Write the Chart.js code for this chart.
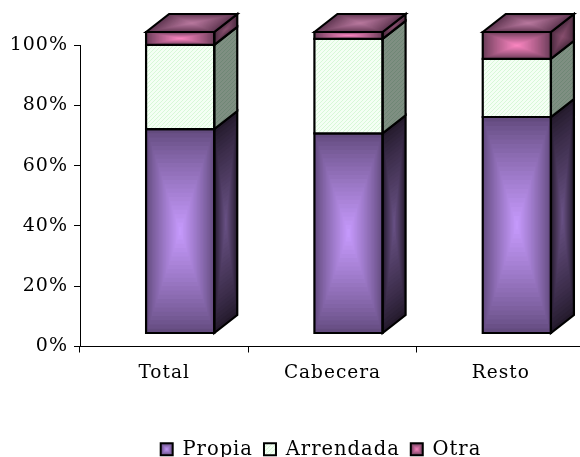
<!DOCTYPE html>
<html><head><meta charset="utf-8">
<style>html,body{margin:0;padding:0;background:#fff;overflow:hidden;width:580px;height:457px}canvas{display:block}</style>
<script src="https://cdn.jsdelivr.net/npm/chart.js@4/dist/chart.umd.min.js"></script>
</head><body><canvas id="c" width="585" height="457"></canvas>
<script>
const categories=['Total','Cabecera','Resto'];
const seriesNames=['Propia','Arrendada','Otra'];
const propia=[67.8,66.4,71.8];
const arrendada=[27.9,31.3,19.3];
const otra=[4.3,2.3,8.9];
const yTicks=[0,20,40,60,80,100];

const FRONT_DX=16, FRONT_DY=-13, DEPTH_X=23, DEPTH_Y=18, LEGEND_SHIFT=23;

function hex(c){return [1,3,5].map(i=>parseInt(c.substr(i,2),16));}
function mix(a,b,t){const A=hex(a),B=hex(b);return `rgb(${A.map((v,i)=>Math.round(v+(B[i]-v)*t)).join(',')})`;}
function hatch(ctx,bg,fg){
  const o=document.createElement('canvas');o.width=o.height=4;
  const x=o.getContext('2d');x.fillStyle=bg;x.fillRect(0,0,4,4);x.fillStyle=fg;
  for(let i=0;i<4;i++)x.fillRect(i,3-i,1,1);
  return ctx.createPattern(o,'repeat');
}
function poly(ctx,p){ctx.beginPath();p.forEach((q,i)=>i?ctx.lineTo(q[0],q[1]):ctx.moveTo(q[0],q[1]));ctx.closePath();}
function face(ctx,p,outer,inner,stops){
  const cx=p.reduce((s,q)=>s+q[0],0)/4, cy=p.reduce((s,q)=>s+q[1],0)/4;
  if(inner===null){ctx.fillStyle=outer;poly(ctx,p);ctx.fill();}
  else{
    const n=stops||24;
    for(let i=0;i<n;i++){
      const t=i/n;
      ctx.fillStyle=mix(outer,inner,Math.pow(t,0.85));
      poly(ctx,p.map(q=>[cx+(q[0]-cx)*(1-t),cy+(q[1]-cy)*(1-t)]));ctx.fill();
    }
  }
}
function outline(ctx,p,w){ctx.strokeStyle='#000';ctx.lineWidth=w||2.2;ctx.lineJoin='miter';poly(ctx,p);ctx.stroke();}

const cv=document.getElementById('c');
const ctx0=cv.getContext('2d');

const frontStyle=[
  {o:'#634b7e',i:'#c89cff'},
  {f:hatch(ctx0,'#f4fff4','#d8f8d8')},
  {o:'#6a3c58',i:'#ff88c4'}];
const sideStyle=[
  {o:'#241a2c',i:'#6a5286'},
  {f:hatch(ctx0,'#7f8f82','#6f8775')},
  {o:'#4a2a3e',i:'#8a5070'}];
const topStyle={o:'#5e3550',i:'#bb7aa0'};

const bars3d={
  id:'bars3d',
  beforeLayout(c){c.ctx.letterSpacing='1px';},
  afterLayout(c){
    const L=c.legend;L.left+=LEGEND_SHIFT;L.right+=LEGEND_SHIFT;
    L.legendHitBoxes.forEach(h=>{h.left+=LEGEND_SHIFT;});
  },
  beforeDraw(c){c.ctx.letterSpacing='1px';},
  beforeDatasetsDraw(c){c.ctx.save();c.ctx.translate(FRONT_DX,FRONT_DY);},
  afterDatasetsDraw(c){
    const ctx=c.ctx;
    c.data.datasets.forEach((d,ds)=>{
      c.getDatasetMeta(ds).data.forEach(b=>{
        const l=b.x-b.width/2,r=b.x+b.width/2,t=b.y,bt=b.base;
        const F=[[l,t],[r,t],[r,bt],[l,bt]];
        const S=[[r,t],[r+DEPTH_X,t-DEPTH_Y],[r+DEPTH_X,bt-DEPTH_Y],[r,bt]];
        const fs=frontStyle[ds],ss=sideStyle[ds];
        if(fs.f)face(ctx,F,fs.f,null);else face(ctx,F,fs.o,fs.i);
        if(ss.f)face(ctx,S,ss.f,null);else face(ctx,S,ss.o,ss.i);
        outline(ctx,F);outline(ctx,S);
        if(ds===c.data.datasets.length-1){
          const T=[[l,t],[l+DEPTH_X,t-DEPTH_Y],[r+DEPTH_X,t-DEPTH_Y],[r,t]];
          face(ctx,T,topStyle.o,topStyle.i);outline(ctx,T);
        }
      });
    });
    ctx.restore();
  },
  afterDraw(c){
    const ctx=c.ctx,L=c.legend;
    L.legendHitBoxes.forEach((h,i)=>{
      const x=h.left+1,y=h.top+(h.height-12)/2-1,s=12;
      const P=[[x,y],[x+s,y],[x+s,y+s],[x,y+s]];
      const fs=frontStyle[i];
      if(fs.f)face(ctx,P,fs.f,null);else face(ctx,P,fs.o,fs.i,6);
      outline(ctx,P,2);
    });
  }
};

function ds(label,data,color){
  return {label,data,backgroundColor:color,borderColor:'#000',borderWidth:2,borderSkipped:false,
    barPercentage:0.405,categoryPercentage:1,clip:false,stack:'s'};
}
new Chart(ctx0,{
  type:'bar',
  data:{labels:categories,datasets:[
    ds(seriesNames[0],propia,'#8a6cb8'),
    ds(seriesNames[1],arrendada,'#eeffee'),
    ds(seriesNames[2],otra,'#a85c88')]},
  plugins:[bars3d],
  options:{
    responsive:false,animation:false,
    layout:{padding:{top:45,left:10,right:0,bottom:-13}},
    plugins:{
      tooltip:{enabled:false},
      legend:{position:'bottom',
        labels:{boxWidth:13,boxHeight:13,padding:10,color:'#000',font:{family:'"DejaVu Serif"',size:19.5},
          generateLabels(c){return c.data.datasets.map((d,i)=>({text:d.label,fillStyle:'#fff',strokeStyle:'#000',lineWidth:0,datasetIndex:i}));}}
      }
    },
    scales:{
      x:{stacked:true,
        border:{color:'#000',width:1},
        grid:{display:true,offset:true,drawOnChartArea:false,tickLength:6,tickColor:'#000'},
        ticks:{color:'#000',font:{family:'"DejaVu Serif"',size:18.5},padding:10,maxRotation:0},
        afterFit(s){s.height=84;}
      },
      y:{stacked:true,min:0,max:100,
        border:{color:'#000',width:1},
        grid:{drawOnChartArea:false,tickLength:6,tickColor:'#000'},
        afterBuildTicks(s){s.ticks=yTicks.map(v=>({value:v}));},
        ticks:{color:'#000',font:{family:'"DejaVu Serif"',size:19},padding:6,callback:v=>v+'%'},
        afterFit(s){s.width=70;}
      }
    }
  }
});
</script></body></html>
